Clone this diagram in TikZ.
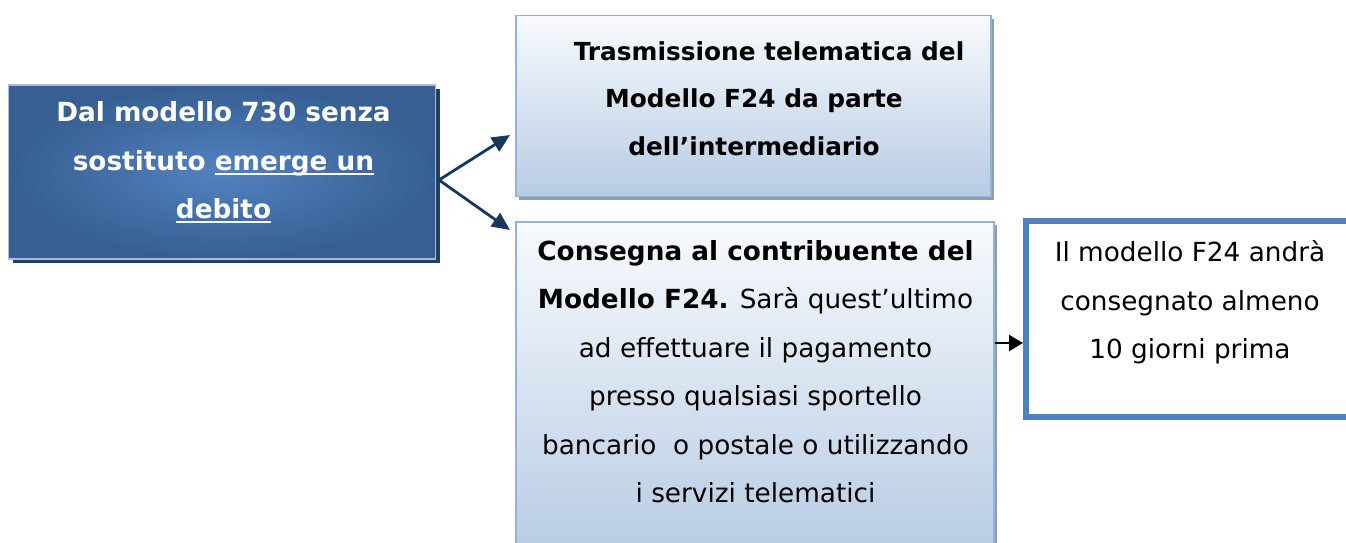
\documentclass[tikz,border=0pt]{standalone}
\usepackage{fontspec}
\setmainfont{DejaVu Sans}
\usetikzlibrary{arrows.meta,shadows}
\definecolor{navy}{HTML}{17375E}
\definecolor{darkblue}{HTML}{375F92}
\definecolor{midblue}{HTML}{5182BF}
\definecolor{lightblue}{HTML}{B8CCE4}
\definecolor{paleblue}{HTML}{F8FAFD}
\definecolor{edgeblue}{HTML}{95B3D7}
\definecolor{borderblue}{HTML}{4F81BD}
\definecolor{shadowdark}{HTML}{243F60}
\definecolor{shadowgrey}{HTML}{8C9DB4}
\definecolor{stripblue}{HTML}{A9BCD6}
\newcommand\ulin[1]{\setbox0\hbox{#1}\rlap{\rule[-4.5pt]{\wd0}{2pt}}\box0}
\begin{document}
\begin{tikzpicture}[x=1pt,y=-1pt,
  txt/.style={align=center,inner sep=0pt,font=\fontsize{26.3}{48.5}\selectfont},
  darkbox/.style={rectangle,inner sep=0pt,draw=stripblue,line width=1.5pt,
    inner color=midblue,outer color=darkblue,
    drop shadow={shadow xshift=4pt,shadow yshift=-4pt,fill=shadowdark,opacity=1}},
  lightbox/.style={rectangle,inner sep=0pt,draw=edgeblue,line width=1.8pt,
    top color=paleblue,bottom color=lightblue,
    drop shadow={shadow xshift=3pt,shadow yshift=-3pt,fill=shadowgrey,opacity=1}},
  framebox/.style={rectangle,inner sep=0pt,draw=borderblue,line width=6pt,fill=white},
  navyarrow/.style={draw=navy,line width=2.8pt,-{Triangle[length=18pt,width=16pt]}},
  blackarrow/.style={draw=black,line width=2.4pt,-{Triangle[length=14pt,width=16pt]}}]
\clip (0,0) rectangle (1346,542);
\fill[white] (0,0) rectangle (1346,542);
% boxes
\node[darkbox,minimum width=427pt,minimum height=174pt] (lbox) at (222,172) {};
\node[lightbox,minimum width=475pt,minimum height=181pt] (tbox) at (753.5,106) {};
\node[lightbox,minimum width=478pt,minimum height=330pt] (bbox) at (755,387) {};
\node[framebox,minimum width=344pt,minimum height=196pt] (rbox) at (1198,319) {};
% texts
\node[txt,text=white,font=\fontsize{26.3}{48.5}\selectfont\bfseries] (ltxt) at (223.5,162.5)
  {Dal modello 730 senza\\sostituto \ulin{emerge un}\\\ulin{debito}};
\node[txt,font=\fontsize{24.8}{47.5}\selectfont\bfseries] (ttxt) at (754,98.5)
  {\hspace*{30pt}Trasmissione telematica del\\Modello F24 da parte\\dell’intermediario};
\node[txt] (btxt) at (755.5,371.5)
  {\textbf{Consegna al contribuente del}\\\textbf{Modello F24.} Sarà quest’ultimo\\ad effettuare il pagamento\\presso qualsiasi sportello\\bancario\ \ o postale o utilizzando\\i servizi telematici};
\node[txt] (rtxt) at (1190,302.5)
  {Il modello F24 andrà\\consegnato almeno\\10 giorni prima};
% connectors
\coordinate (fork) at (439,180);
\coordinate (tipA) at (510,135);
\coordinate (tipB) at (510,230);
\draw[navyarrow] (fork) -- (tipA);
\draw[navyarrow] (fork) -- (tipB);
\coordinate (bstart) at (bbox.east |- 0,343);
\draw[blackarrow] (bstart) -- (rbox.west |- bstart);
\end{tikzpicture}
\end{document}
